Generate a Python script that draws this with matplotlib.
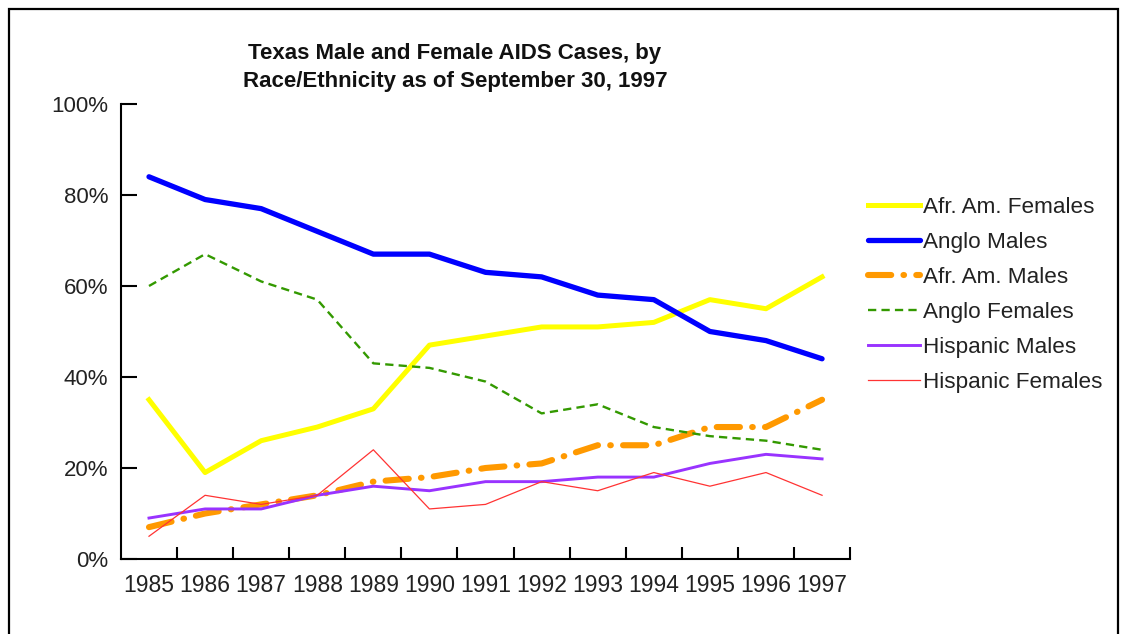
import matplotlib
matplotlib.use("Agg")
import matplotlib.pyplot as plt
from matplotlib.patches import Rectangle

plt.rcParams['font.family'] = ['Liberation Sans', 'DejaVu Sans']

# ---- data (percent of cases) ----
years = ["1985", "1986", "1987", "1988", "1989", "1990", "1991",
         "1992", "1993", "1994", "1995", "1996", "1997"]
afr_am_females = [35, 19, 26, 29, 33, 47, 49, 51, 51, 52, 57, 55, 62]
anglo_males = [84, 79, 77, 72, 67, 67, 63, 62, 58, 57, 50, 48, 44]
afr_am_males = [7, 10, 12, 14, 17, 18, 20, 21, 25, 25, 29, 29, 35]
anglo_females = [60, 67, 61, 57, 43, 42, 39, 32, 34, 29, 27, 26, 24]
hispanic_males = [9, 11, 11, 14, 16, 15, 17, 17, 18, 18, 21, 23, 22]
hispanic_females = [5, 14, 12, 14, 24, 11, 12, 17, 15, 19, 16, 19, 14]
y_ticks = [0, 20, 40, 60, 80, 100]

fig = plt.figure(figsize=(11.23, 6.34), dpi=100)
ax = fig.add_axes([0.1077, 0.1183, 0.6493, 0.7177])

x = list(range(len(years)))
ax.plot(x, afr_am_females, color="#FFFF00", lw=3.6, label="Afr. Am. Females")
ax.plot(x, anglo_males, color="#0000FF", lw=3.8, label="Anglo Males",
        solid_capstyle="round")
ax.plot(x, afr_am_males, color="#FF9900", lw=4.4, label="Afr. Am. Males",
        dashes=(3.8, 2.0, 0.1, 2.0), dash_capstyle="round")
ax.plot(x, anglo_females, color="#339900", lw=1.7, label="Anglo Females",
        dashes=(3.5, 2.2))
ax.plot(x, hispanic_males, color="#9933FF", lw=2.1, label="Hispanic Males")
ax.plot(x, hispanic_females, color="#FF3333", lw=0.9, label="Hispanic Females")

ax.set_xlim(-0.5, len(years) - 0.5)
ax.set_ylim(0, 100)

ax.set_yticks(y_ticks)
ax.set_yticklabels([f"{v}%" for v in y_ticks])
ax.tick_params(axis="y", direction="in", length=11.5, width=1.5,
               labelsize=16, pad=9, colors="black", labelcolor="#222222")

# boundary ticks (inward) and labels centred on categories
ax.set_xticks([i + 0.5 for i in x])
ax.set_xticklabels([])
ax.set_xticks(x, minor=True)
ax.set_xticklabels(years, minor=True)
ax.tick_params(axis="x", which="major", direction="in", length=9, width=1.5)
ax.tick_params(axis="x", which="minor", length=0, labelsize=16.5, pad=11,
               labelcolor="#222222")

for side in ("top", "right"):
    ax.spines[side].set_visible(False)
for side in ("left", "bottom"):
    ax.spines[side].set_linewidth(1.5)

fig.text(0.405, 0.894, "Texas Male and Female AIDS Cases, by\nRace/Ethnicity as of September 30, 1997",
         ha="center", va="center", fontsize=16, fontweight="bold",
         linespacing=1.42, color="#111111")

ax.legend(loc="upper left", bbox_to_anchor=(1.0125, 0.815), frameon=False,
          fontsize=16.2, handlelength=2.3, handletextpad=0.15,
          labelspacing=0.62, borderaxespad=0, labelcolor="#222222")

# outer frame
fig.patches.append(Rectangle((9 / 1123, -0.1), 1109 / 1123, 1.1 - 9 / 634,
                             transform=fig.transFigure, fill=False,
                             edgecolor="black", lw=1.6))

fig.savefig("out.png", dpi=100)
